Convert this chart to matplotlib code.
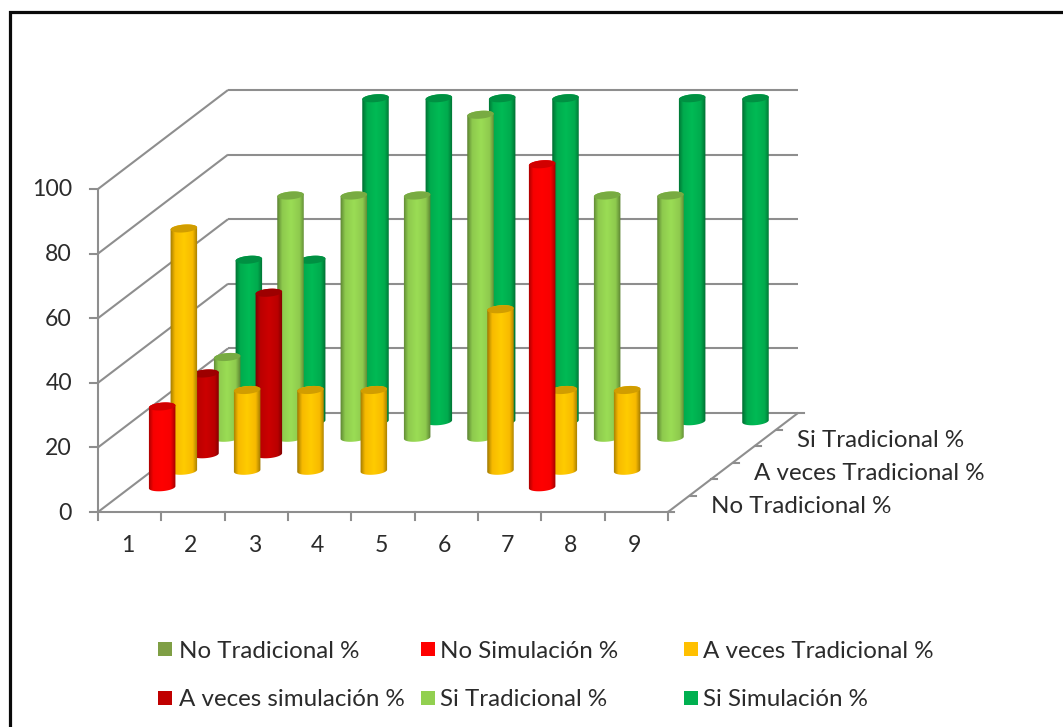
import numpy as np
import matplotlib
matplotlib.use('Agg')
import matplotlib.pyplot as plt
from matplotlib.colors import LinearSegmentedColormap
from matplotlib.patches import Polygon, Rectangle

# Data
categories = ['1', '2', '3', '4', '5', '6', '7', '8', '9']
value_ticks = [0, 20, 40, 60, 80, 100]
no_tradicional = [0, 0, 0, 0, 0, 0, 0, 0, 0]
no_simulacion = [25, 0, 0, 0, 0, 0, 100, 0, 0]
a_veces_tradicional = [75, 25, 25, 25, 0, 50, 25, 25, 0]
a_veces_simulacion = [25, 50, 0, 0, 0, 0, 0, 0, 0]
si_tradicional = [25, 75, 75, 75, 100, 0, 75, 75, 0]
si_simulacion = [50, 50, 100, 100, 100, 100, 0, 100, 100]

series_names = ['No Tradicional %', 'No Simulación %', 'A veces Tradicional %',
                'A veces simulación %', 'Si Tradicional %', 'Si Simulación %']
series_values = [no_tradicional, no_simulacion, a_veces_tradicional,
                 a_veces_simulacion, si_tradicional, si_simulacion]
series_colors = ['#7F9F45', '#FF0000', '#FFC000', '#C00000', '#92D050', '#00B050']
depth_labels = {0: 'No Tradicional %', 2: 'A veces Tradicional %', 4: 'Si Tradicional %'}

# Oblique projection of the 3D box, in figure pixels
ORIGIN_X, ORIGIN_Y = 98.0, 512.0
CAT_STEP = 63.33
DEPTH_X, DEPTH_Y = 21.67, 16.5
VALUE_SCALE = 3.23
N_CAT, N_DEPTH = len(categories), len(series_names)

GRID = '#8E8E8E'
TEXT = '#2B2B2B'
FONT = 'Lato'
TICK_SIZE = 16.6
LABEL_SIZE = 17.4


def project(cat, depth, value):
    x = ORIGIN_X + cat * CAT_STEP + depth * DEPTH_X
    y = ORIGIN_Y - depth * DEPTH_Y - value * VALUE_SCALE
    return x, y


def line3d(ax, p0, p1, lw=1.5):
    x0, y0 = project(*p0)
    x1, y1 = project(*p1)
    ax.plot([x0, x1], [y0, y1], color=GRID, lw=lw, solid_capstyle='butt', zorder=1)


def shade(color, factor):
    rgb = np.array(matplotlib.colors.to_rgb(color))
    return tuple(np.clip(rgb * factor, 0, 1))


def ellipse_arc(cx, cy, start, end, rx=13.3, ry=3.9, tilt=-5.0):
    # arc of the tilted end cap, angles in degrees (y axis points down)
    t = np.radians(np.linspace(start, end, 40))
    a = np.radians(tilt)
    ex = rx * np.cos(t)
    ey = ry * np.sin(t)
    return np.column_stack([cx + ex * np.cos(a) - ey * np.sin(a),
                            cy + ex * np.sin(a) + ey * np.cos(a)])


def draw_cylinder(ax, cat, depth, value, color, z):
    cx, base = project(cat + 0.5, depth + 0.5, 0)
    _, top = project(cat + 0.5, depth + 0.5, value)

    # side of the cylinder: upper half of top cap, then lower half of bottom cap
    outline = np.vstack([ellipse_arc(cx, top, 180, 360),
                         ellipse_arc(cx, base, 0, 180)])
    body = Polygon(outline, closed=True, facecolor='none', edgecolor='none', zorder=z)
    ax.add_patch(body)

    cmap = LinearSegmentedColormap.from_list('side', [
        (0.0, shade(color, 0.62)),
        (0.18, shade(color, 0.97)),
        (0.5, shade(color, 1.06)),
        (0.82, shade(color, 0.97)),
        (1.0, shade(color, 0.62)),
    ])
    im = ax.imshow(np.linspace(0, 1, 64).reshape(1, -1), cmap=cmap, aspect='auto',
                   extent=[cx - 13.8, cx + 13.8, base + 6, top - 6], zorder=z,
                   interpolation='bilinear')
    im.set_clip_path(body)

    # top cap is darker than the side
    cap = Polygon(ellipse_arc(cx, top, 0, 360), closed=True, zorder=z + 0.1,
                  facecolor=shade(color, 0.82), edgecolor='none')
    ax.add_patch(cap)


fig = plt.figure(figsize=(10.63, 7.27), dpi=100, facecolor='white')
ax = fig.add_axes([0, 0, 1, 1])

# Outer frame only shows on the top and left
ax.plot([1063, 10, 10], [11.5, 11.5, 727], color='#0A0A0A', lw=2.3,
        solid_joinstyle='miter', zorder=0.5)

# Walls and floor
for v in value_ticks:
    line3d(ax, (0, 0, v), (0, N_DEPTH, v))
    line3d(ax, (0, N_DEPTH, v), (N_CAT, N_DEPTH, v))
    x, y = project(0, 0, v)
    ax.plot([x - 8, x], [y, y], color=GRID, lw=1.5, zorder=1)
    ax.text(x - 26, y + 1, str(v), ha='right', va='center', family=FONT,
            fontsize=TICK_SIZE, color=TEXT)
line3d(ax, (0, 0, 0), (0, 0, value_ticks[-1]))
line3d(ax, (0, 0, 0), (N_CAT, 0, 0))
line3d(ax, (N_CAT, 0, 0), (N_CAT, N_DEPTH, 0))

# Category ticks along the front edge
for i in range(N_CAT + 1):
    x, y = project(i, 0, 0)
    ax.plot([x, x], [y, y + 8], color=GRID, lw=1.5, zorder=1)
for i, name in enumerate(categories):
    x, y = project(i + 0.5, 0, 0)
    ax.text(x - 2, y + 34, name, ha='center', va='center', family=FONT,
            fontsize=TICK_SIZE, color=TEXT)

# Depth ticks and labels on the right edge
for d in range(N_DEPTH + 1):
    x, y = project(N_CAT, d, 0)
    ax.plot([x, x + 6], [y, y], color=GRID, lw=1.5, zorder=1)
for d, name in depth_labels.items():
    x, y = project(N_CAT, d + 0.5, 0)
    ax.text(x + 32, y + 3, name, ha='left', va='center', family=FONT,
            fontsize=LABEL_SIZE, color=TEXT)

# Cylinders, back row first so the front ones cover them
for d in range(N_DEPTH - 1, -1, -1):
    for i, v in enumerate(series_values[d]):
        if v > 0:
            draw_cylinder(ax, i, d, v, series_colors[d], 10 + (N_DEPTH - d) + i * 0.01)

# Legend, three columns by two rows
legend_x = [158, 421, 684]
legend_y = [649, 698]
for n, (name, color) in enumerate(zip(series_names, series_colors)):
    lx = legend_x[n % 3]
    ly = legend_y[n // 3]
    ax.add_patch(Rectangle((lx, ly - 7), 14, 14, facecolor=color, edgecolor='none', zorder=5))
    ax.text(lx + (21 if n % 3 == 0 else 19), ly + 2, name, ha='left', va='center',
            family=FONT, fontsize=LABEL_SIZE, color=TEXT)

ax.set_xlim(0, 1063)
ax.set_ylim(727, 0)
ax.axis('off')

fig.savefig('out.png', dpi=100, facecolor='white')
